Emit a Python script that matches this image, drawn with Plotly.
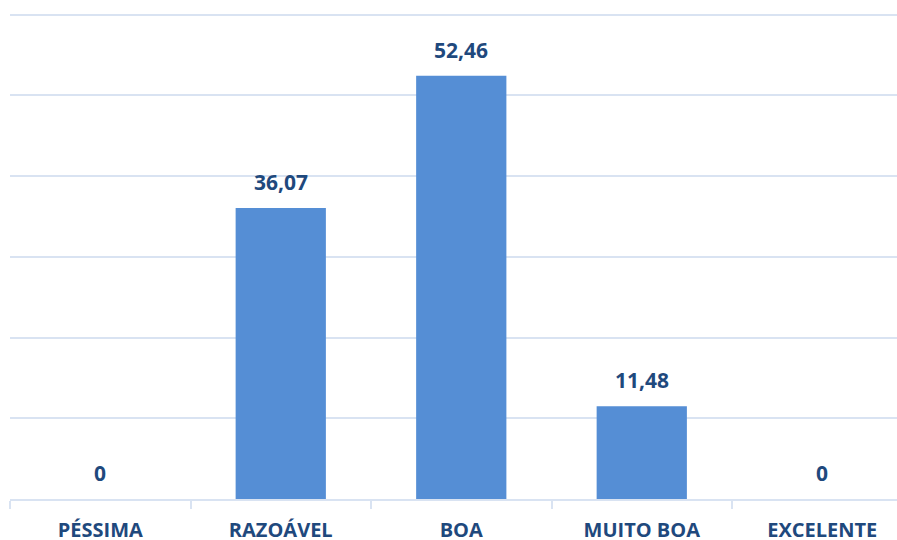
import plotly.graph_objects as go

# Categories and values (percent)
categorias = ['PÉSSIMA', 'RAZOÁVEL', 'BOA', 'MUITO BOA', 'EXCELENTE']
valores = [0, 36.07, 52.46, 11.48, 0]
rotulos = ['0', '36,07', '52,46', '11,48', '0']

cor_barra = '#558ED5'
cor_texto = '#1F497D'
cor_grade = '#D9E3F2'
fonte = 'Open Sans'

fig = go.Figure(go.Bar(
    x=categorias, y=valores,
    marker=dict(color=cor_barra, line=dict(width=0)),
    width=0.5,
))

# data labels above each bar
for c, v, t in zip(categorias, valores, rotulos):
    fig.add_annotation(x=c, y=v, text='<b>%s</b>' % t, showarrow=False,
                       yanchor='bottom', yshift=10,
                       font=dict(family=fonte, size=21, color=cor_texto))

fig.update_layout(
    width=897, height=540,
    margin=dict(l=10, r=0, t=11, b=41),
    plot_bgcolor='white', paper_bgcolor='white',
    showlegend=False,
    font=dict(family=fonte, color=cor_texto),
)
fig.update_xaxes(
    range=[-0.5, 4.414], showgrid=False,
    showline=True, linecolor=cor_grade, linewidth=2,
    ticks='outside', tickson='boundaries', ticklen=8, tickcolor=cor_grade, tickwidth=2,
    tickfont=dict(family=fonte, size=20, color=cor_texto),
    ticklabelstandoff=12, automargin=False,
    tickprefix='<b>', ticksuffix='</b>',
)
fig.update_yaxes(
    range=[0, 60.47], dtick=10, showgrid=True, gridcolor=cor_grade, gridwidth=2,
    showticklabels=False, zeroline=False, automargin=False,
)

# drop the default page margin so the figure fills the window exactly
fig.write_html('out.html', config={'displayModeBar': False},
               post_script="document.body.style.margin='0';document.body.style.overflow='hidden';")
